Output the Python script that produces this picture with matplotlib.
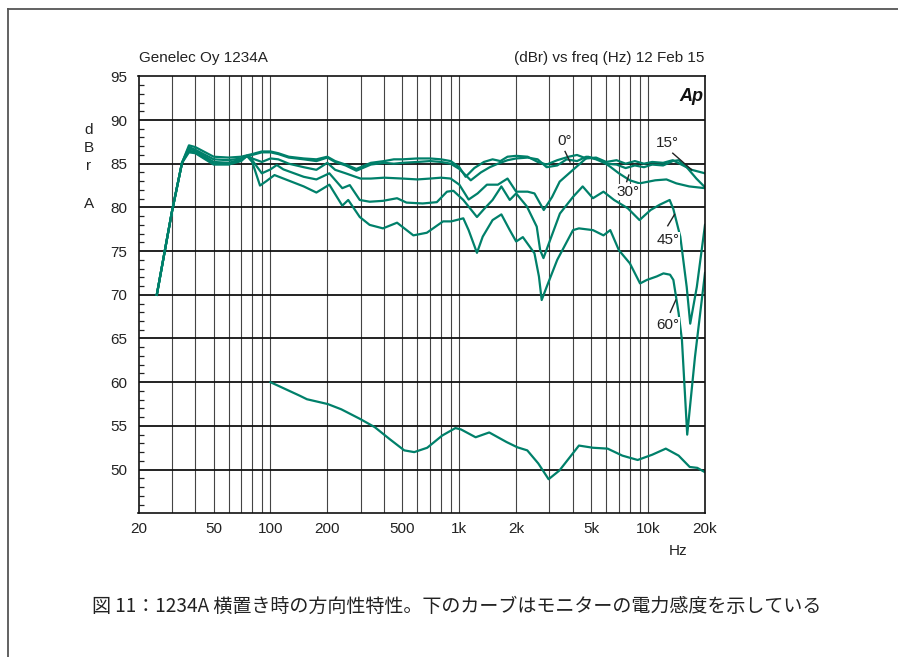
import matplotlib
matplotlib.use("Agg")
import matplotlib.pyplot as plt
from matplotlib.lines import Line2D
from matplotlib.ticker import FixedLocator, NullFormatter

plt.rcParams['font.family'] = ['Liberation Sans', 'Noto Sans CJK JP', 'DejaVu Sans']

# directional response curves (Hz, dBr)
f_0 = [25, 30, 34, 37, 40, 50, 60, 70, 80, 90, 100, 110, 125, 150, 175, 200, 220, 250, 285, 340,
       400, 450, 500, 600, 700, 800, 900, 1000, 1080, 1200, 1350, 1500, 1650, 1800, 2000, 2300,
       2600, 2900, 3300, 3800, 4200, 4700, 5300, 6000, 6800, 7600, 8500, 9500, 10500, 12000,
       13500, 15000, 17000, 20000]
db_0 = [70, 79.4, 85.1, 87.1, 86.9, 85.8, 85.7, 85.8, 86.1, 86.4, 86.4, 86.2, 85.8, 85.6, 85.5,
        85.8, 85.3, 84.9, 84.4, 85.1, 85.3, 85.5, 85.5, 85.6, 85.6, 85.5, 85.3, 84.6, 83.5, 84.5,
        85.2, 85.5, 85.3, 85.8, 85.9, 85.8, 85.2, 84.9, 85.4, 85.8, 86.0, 85.6, 85.7, 85.2, 85.4,
        85.0, 85.3, 85.0, 85.2, 85.1, 85.4, 84.9, 84.3, 83.9]

f_15 = [25, 30, 34, 37, 40, 50, 60, 70, 80, 90, 100, 110, 125, 150, 175, 200, 220, 250, 285, 340,
        400, 450, 500, 600, 700, 800, 900, 1000, 1150, 1300, 1450, 1600, 1800, 2000, 2300, 2600,
        2900, 3300, 3700, 4200, 4700, 5300, 6000, 6800, 7600, 8500, 9500, 10500, 12000, 13500,
        14500, 16000, 18000, 20000]
db_15 = [70, 79.4, 85.1, 86.9, 86.6, 85.5, 85.4, 85.6, 86.0, 86.3, 86.3, 86.1, 85.7, 85.5, 85.3,
         85.7, 85.2, 84.8, 84.2, 84.9, 85.1, 85.0, 85.1, 85.2, 85.3, 85.2, 85.0, 84.4, 83.1, 84.0,
         84.6, 85.0, 85.4, 85.6, 85.7, 85.5, 84.6, 84.8, 85.5, 85.3, 85.8, 85.5, 85.0, 84.9, 84.5,
         84.8, 84.6, 84.9, 84.8, 85.3, 85.4, 84.6, 83.3, 82.3]

f_30 = [25, 30, 34, 37, 40, 50, 60, 70, 75, 80, 90, 100, 110, 125, 150, 175, 200, 220, 250, 300,
        340, 400, 500, 600, 700, 800, 900, 1000, 1120, 1250, 1400, 1600, 1800, 2000, 2300, 2500,
        2800, 3100, 3400, 4000, 4800, 5600, 6300, 7000, 8000, 9000, 10900, 12500, 14100, 16500,
        20000]
db_30 = [70, 79.4, 85.1, 86.7, 86.5, 85.2, 85.1, 85.5, 85.9, 85.6, 85.2, 85.6, 85.5, 85.0, 84.6,
         84.3, 85.1, 84.3, 83.9, 83.3, 83.3, 83.4, 83.3, 83.2, 83.3, 83.4, 83.3, 82.6, 80.9, 81.6,
         82.6, 82.6, 83.3, 81.8, 81.8, 81.6, 79.7, 81.2, 82.95, 84.3, 85.8, 85.4, 84.65, 83.9,
         83.1, 82.75, 83.1, 83.2, 82.75, 82.4, 82.2]

f_45 = [25, 30, 34, 37, 40, 50, 60, 70, 75, 80, 90, 100, 108, 117, 150, 175, 205, 240, 263, 297,
        335, 394, 468, 525, 640, 760, 860, 930, 1050, 1240, 1350, 1500, 1670, 1850, 2000, 2280,
        2570, 2680, 2790, 3030, 3410, 4000, 4500, 5100, 5800, 6600, 7800, 9000, 10300, 11500,
        13000, 13600, 14800, 16000, 16700, 18100, 20000]
db_45 = [70, 79.4, 85.1, 86.5, 86.3, 85.0, 85.0, 85.4, 85.9, 85.4, 83.9, 84.35, 84.85, 84.35,
         83.5, 83.2, 83.9, 82.2, 82.55, 80.85, 80.65, 80.75, 81.05, 80.55, 80.45, 80.6, 81.8,
         81.9, 80.85, 78.9, 79.8, 80.85, 82.4, 80.85, 81.6, 80.1, 77.8, 75.1, 74.2, 76.3, 79.3,
         81.2, 82.4, 81.05, 81.8, 80.85, 79.9, 78.55, 79.7, 80.3, 80.85, 79.8, 76.65, 70.9, 66.7,
         70.9, 78.0]

f_60 = [25, 30, 34, 37, 40, 50, 60, 70, 75, 80, 88, 95, 105, 150, 175, 205, 240, 258, 297, 335,
        394, 468, 571, 673, 820, 906, 1050, 1120, 1240, 1330, 1500, 1670, 1850, 2000, 2170, 2500,
        2640, 2730, 2900, 3300, 4000, 4300, 5100, 5800, 6300, 7000, 8000, 9060, 9840, 11100,
        12050, 13060, 13600, 14500, 15100, 16100, 17700, 20000]
db_60 = [70, 79.4, 85.1, 86.3, 86.2, 84.9, 84.9, 85.3, 85.9, 85.2, 82.5, 83.0, 83.7, 82.4, 81.7,
         82.6, 80.2, 80.85, 78.9, 78.0, 77.6, 78.25, 76.8, 77.1, 78.4, 78.4, 78.75, 77.4, 74.8,
         76.65, 78.55, 79.2, 77.4, 76.1, 76.6, 74.75, 72.1, 69.4, 70.9, 74.0, 77.4, 77.6, 77.4,
         76.8, 77.4, 75.1, 73.6, 71.3, 71.7, 72.1, 72.45, 72.3, 71.7, 67.9, 64.8, 54.0, 62.9,
         72.5]

# power response (lower curve)
f_pow = [100, 143, 156, 201, 237, 298, 357, 427, 511, 577, 676, 812, 953, 1020, 1220, 1440, 1780,
         2030, 2290, 2620, 2970, 3390, 4300, 5100, 6100, 7300, 8800, 10500, 12400, 14500, 16600,
         18200, 20000]
db_pow = [60.0, 58.45, 58.05, 57.5, 56.9, 55.8, 54.85, 53.5, 52.2, 52.0, 52.5, 53.9, 54.75, 54.6,
          53.7, 54.25, 53.15, 52.55, 52.2, 50.7, 48.9, 49.9, 52.75, 52.5, 52.4, 51.6, 51.1, 51.7,
          52.4, 51.6, 50.3, 50.2, 49.7]

x_ticks = [20, 50, 100, 200, 500, 1000, 2000, 5000, 10000, 20000]
x_labels = ["20", "50", "100", "200", "500", "1k", "2k", "5k", "10k", "20k"]
y_ticks = [50, 55, 60, 65, 70, 75, 80, 85, 90, 95]

green = "#00806a"
text_c = "#222222"

fig = plt.figure(figsize=(8.98, 6.57), dpi=100)
ax = fig.add_axes([138.5 / 898, 1 - 513.3 / 657, 566.5 / 898, 437 / 657])

# curves
for f, d in [(f_60, db_60), (f_45, db_45), (f_30, db_30), (f_15, db_15), (f_0, db_0)]:
    ax.plot(f, d, color=green, lw=1.6, solid_joinstyle='round')
ax.plot(f_pow, db_pow, color=green, lw=1.6)

ax.set_xscale('log')
ax.set_xlim(20, 20000)
ax.set_ylim(45, 95)

# grid
minor_x = [m * 10 ** e for e in range(1, 5) for m in range(2, 10)
           if 20 < m * 10 ** e < 20000 and m * 10 ** e not in x_ticks]
ax.set_xticks(x_ticks)
ax.set_xticklabels(x_labels)
ax.xaxis.set_minor_locator(FixedLocator(minor_x))
ax.xaxis.set_minor_formatter(NullFormatter())
for xv in x_ticks[1:-1] + minor_x:
    ax.axvline(xv, color="#444444", lw=0.8, zorder=0)
for yv in y_ticks[:-1]:
    ax.axhline(yv, color="#111111", lw=1.3, zorder=0.5)

ax.set_yticks(y_ticks)
ax.yaxis.set_minor_locator(FixedLocator([v for v in range(46, 95) if v % 5]))
ax.tick_params(axis='x', which='both', length=0, labelsize=11, labelcolor=text_c, pad=6)
ax.tick_params(axis='y', which='major', length=0, labelsize=11, labelcolor=text_c, pad=8)
ax.tick_params(axis='y', which='minor', direction='in', length=3.5, width=0.9, color="#222222")
for s in ax.spines.values():
    s.set_color("#111111")
    s.set_linewidth(1.2)

# angle labels with leader lines
angle_labels = [("0°", 3630, 87.6, (3630, 86.4), (3860, 85.2)),
                ("15°", 12600, 87.4, (13500, 86.2), (17000, 84.3)),
                ("30°", 7830, 81.75, (7700, 82.95), (7900, 83.7)),
                ("45°", 12700, 76.3, (12700, 77.9), (13800, 79.2)),
                ("60°", 12700, 66.55, (13100, 68.0), (14000, 69.4))]
for txt, tx, ty, p1, p2 in angle_labels:
    ax.text(tx, ty, txt, ha='center', va='center', fontsize=11, color=text_c,
            bbox=dict(facecolor='white', edgecolor='none', pad=0.5))
    ax.plot([p1[0], p2[0]], [p1[1], p2[1]], color="#222222", lw=1.0)

ax.text(0.9965, 0.953, "Ap", transform=ax.transAxes, ha='right', va='center',
        fontsize=13, fontweight='bold', fontstyle='italic', color="#111111")

# header texts
fig.text(139 / 898, 1 - 58 / 657, "Genelec Oy 1234A", ha='left', va='center',
         fontsize=11, color=text_c)
fig.text(704 / 898, 1 - 58 / 657, "(dBr) vs freq (Hz) 12 Feb 15", ha='right', va='center',
         fontsize=11, color=text_c)

# stacked y-axis unit
for ch, yp in [("d", 130), ("B", 148), ("r", 166), ("A", 204)]:
    fig.text(89 / 898, 1 - yp / 657, ch, ha='center', va='center', fontsize=11, color=text_c)

fig.text(678 / 898, 1 - 551 / 657, "Hz", ha='center', va='center', fontsize=11, color=text_c)

# caption
fig.text(92 / 898, 1 - 606 / 657,
         "図 11：1234A 横置き時の方向性特性。下のカーブはモニターの電力感度を示している",
         ha='left', va='center', fontsize=13.7, color=text_c,
         family=['Noto Sans CJK JP', 'DejaVu Sans'])

# frame around the figure (top and left edges)
fig.add_artist(Line2D([8 / 898, 1], [1 - 9 / 657, 1 - 9 / 657], color="#555555", lw=1.3))
fig.add_artist(Line2D([8 / 898, 8 / 898], [0, 1 - 9 / 657], color="#555555", lw=1.3))

fig.savefig("out.png", dpi=100)
